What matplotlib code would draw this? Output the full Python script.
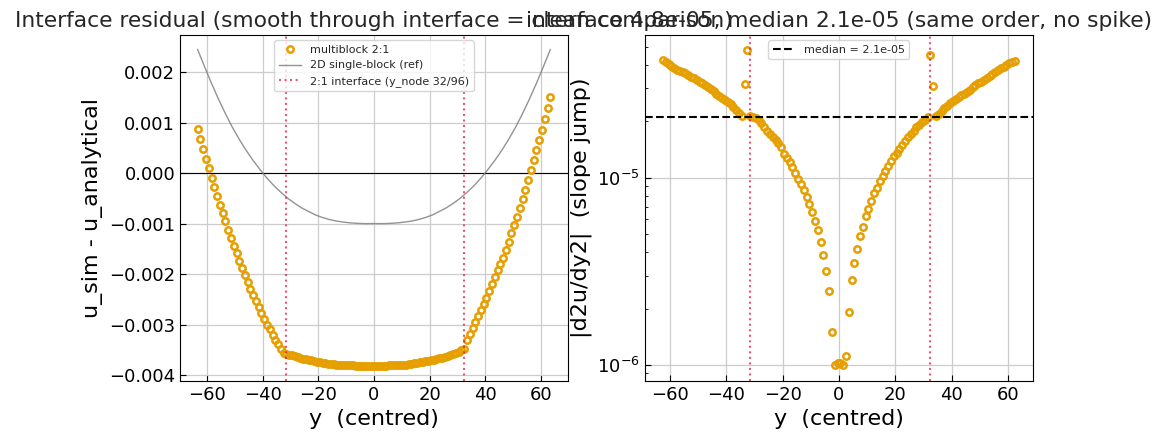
import numpy as np
import matplotlib
matplotlib.use("Agg")
import matplotlib.pyplot as plt

# centred y of the 128 coarse nodes (node - 63.5)
y_nodes = np.arange(128) - 63.5

# u_sim - u_analytical, multiblock 2:1 (units of 1e-3)
resid_mb = [
    0.881, 0.675, 0.477, 0.278, 0.106, -0.093, -0.272, -0.450, -0.629, -0.795,
    -0.954, -1.132, -1.291, -1.437, -1.589, -1.742, -1.881, -2.020, -2.166, -2.298,
    -2.424, -2.536, -2.662, -2.781, -2.887, -3.000, -3.099, -3.205, -3.298, -3.391,
    -3.477, -3.556,
    -3.576, -3.595, -3.612, -3.629, -3.645, -3.660, -3.674, -3.687, -3.700, -3.712,
    -3.726, -3.738, -3.749, -3.759, -3.769, -3.777, -3.784, -3.792, -3.797, -3.801,
    -3.805, -3.807, -3.809, -3.811, -3.812, -3.813, -3.814, -3.815, -3.815, -3.815,
    -3.815, -3.815, -3.815, -3.815, -3.814, -3.814, -3.813, -3.812, -3.811, -3.810,
    -3.809, -3.804, -3.799, -3.793, -3.786, -3.779, -3.771, -3.763, -3.753, -3.743,
    -3.732, -3.720, -3.708, -3.696, -3.684, -3.670, -3.655, -3.638, -3.622, -3.603,
    -3.584, -3.563, -3.541, -3.515, -3.487,
    -3.298, -3.192, -3.079, -2.960, -2.841, -2.715, -2.596, -2.470, -2.338, -2.205,
    -2.066, -1.921, -1.801, -1.675, -1.523, -1.358, -1.192, -1.026, -0.861, -0.695,
    -0.510, -0.331, -0.132, 0.060, 0.258, 0.464, 0.656, 0.861, 1.073, 1.298, 1.510,
]

# 2D single-block reference (units of 1e-3)
ref_y = [-63.5, -61, -58.5, -56, -53.5, -51, -48.5, -46, -43.5, -41, -38.5, -36, -33.5,
         -31, -28.5, -26, -23.5, -21, -18.5, -16, -13.5, -11, -8.5, -6, -3.5, -1, 0,
         1, 3.5, 6, 8.5, 11, 13.5, 16, 18.5, 21, 23.5, 26, 28.5, 31, 33.5, 36, 38.5,
         41, 43.5, 46, 48.5, 51, 53.5, 56, 58.5, 61, 63.5]
ref_resid = [2.45, 2.11, 1.78, 1.47, 1.18, 0.91, 0.67, 0.45, 0.25, 0.07, -0.10, -0.25, -0.38,
             -0.50, -0.60, -0.69, -0.76, -0.83, -0.88, -0.92, -0.95, -0.97, -0.985, -0.995, -1.0, -1.0, -1.0,
             -1.0, -1.0, -0.995, -0.985, -0.97, -0.95, -0.92, -0.88, -0.83, -0.76, -0.69, -0.60, -0.50, -0.38,
             -0.25, -0.10, 0.07, 0.25, 0.45, 0.67, 0.91, 1.18, 1.47, 1.78, 2.11, 2.45]

# |d2u/dy2| at interior nodes (units of 1e-5)
y_inner = np.arange(126) - 62.5
d2u = [
    4.24, 4.14, 4.04, 3.94, 3.86, 3.78, 3.73, 3.67, 3.61, 3.54,
    3.47, 3.40, 3.34, 3.26, 3.20, 3.12, 3.05, 2.98, 2.91, 2.81,
    2.73, 2.67, 2.59, 2.54, 2.48, 2.39, 2.30, 2.23, 2.15,
    3.17, 4.84,
    2.15, 2.12, 2.09, 2.03, 1.96, 1.86, 1.78, 1.72, 1.65, 1.60,
    1.53, 1.46, 1.34, 1.27, 1.21, 1.14, 1.06, 0.984, 0.925, 0.859,
    0.785, 0.723, 0.655, 0.586, 0.527, 0.453, 0.386, 0.318, 0.249, 0.1495,
    0.100, 0.102, 0.102, 0.100, 0.1117, 0.191, 0.285, 0.350, 0.417, 0.488,
    0.545, 0.624, 0.683, 0.750, 0.828, 0.880, 0.956, 1.025, 1.086, 1.159,
    1.233, 1.311, 1.355, 1.429, 1.501, 1.577, 1.643, 1.712, 1.784, 1.858,
    1.920, 1.985, 2.043, 2.102,
    4.53, 3.09,
    2.15, 2.20, 2.28, 2.35, 2.43, 2.51, 2.57, 2.63, 2.70, 2.76,
    2.82, 2.89, 2.95, 3.05, 3.13, 3.20, 3.26, 3.33, 3.40, 3.48,
    3.58, 3.69, 3.76, 3.84, 3.92, 4.01, 4.09, 4.15, 4.22,
]
median_val = 2.1e-5
interfaces = [-31.5, 32.5]

orange = "#E69F00"
iface_col = "crimson"

plt.rcParams.update({
    "font.family": "DejaVu Sans",
    "xtick.direction": "in",
    "ytick.direction": "in",
    "xtick.labelsize": 13,
    "ytick.labelsize": 13,
    "axes.labelsize": 16,
    "axes.titlesize": 15.7,
    "text.color": "#262626",
    "axes.grid": True,
    "grid.color": "#cccccc",
    "grid.linewidth": 0.9,
})

fig = plt.figure(figsize=(11.65, 4.42), dpi=100)
ax1 = fig.add_axes([0.1545, 0.138, 0.333, 0.783])
ax2 = fig.add_axes([0.5536, 0.138, 0.333, 0.783])

mk = dict(ls="none", marker="o", ms=4.6, mfc="none", mec=orange, mew=1.8)

# left: residual
ax1.axhline(0, color="black", lw=0.8)
ax1.plot(y_nodes, np.array(resid_mb) * 1e-3, label="multiblock 2:1", **mk)
ax1.plot(ref_y, np.array(ref_resid) * 1e-3, color="gray", lw=1.0, alpha=0.85,
         label="2D single-block (ref)")
for i, yi in enumerate(interfaces):
    ax1.axvline(yi, color=iface_col, ls=":", lw=1.5, alpha=0.7,
                label="2:1 interface (y_node 32/96)" if i == 0 else None)
ax1.set_xlim(-69.85, 69.85)
ax1.set_ylim(-0.00412, 0.00274)
ax1.set_xlabel("y  (centred)")
ax1.set_ylabel("u_sim - u_analytical")
ax1.set_title("Interface residual (smooth through interface = clean comparison)")
ax1.legend(loc="upper center", fontsize=8)

# right: curvature
ax2.plot(y_inner, np.array(d2u) * 1e-5, **mk)
ax2.axhline(median_val, color="black", ls="--", lw=1.5, label=f"median = {median_val:.1e}")
for yi in interfaces:
    ax2.axvline(yi, color=iface_col, ls=":", lw=1.5, alpha=0.7)
ax2.set_yscale("log")
ax2.set_xlim(-68.9, 68.9)
ax2.set_ylim(8.2e-7, 5.8e-5)
ax2.set_xlabel("y  (centred)")
ax2.set_ylabel("|d2u/dy2|  (slope jump)")
ax2.set_title("interface 4.8e-05, median 2.1e-05 (same order, no spike)")
ax2.legend(loc="upper center", fontsize=8)

for ax in (ax1, ax2):
    ax.set_xticks([-60, -40, -20, 0, 20, 40, 60])
    ax.tick_params(which="major", length=4)
    ax.tick_params(which="minor", length=2.5)
    ax.set_axisbelow(True)

fig.savefig("out.png", dpi=100)
